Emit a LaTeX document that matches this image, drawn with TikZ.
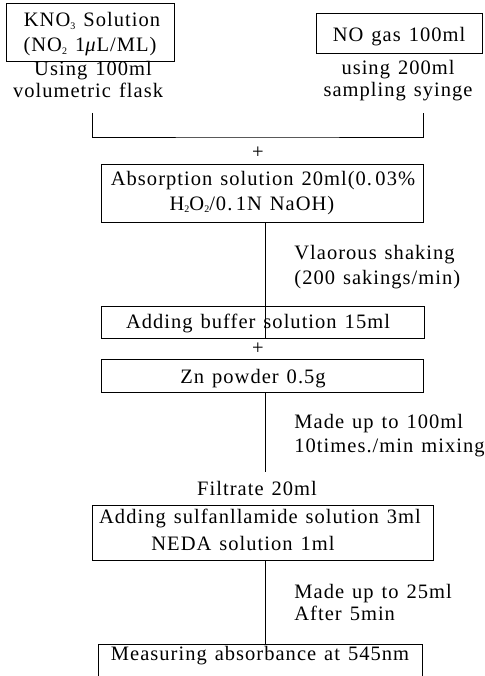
\documentclass[tikz,border=0pt]{standalone}
\usepackage{fontspec}
\setmainfont{Liberation Serif}[LetterSpace=5,WordSpace=1.3]
\newcommand{\lowsub}[1]{\raisebox{-2.5bp}{\fontsize{10bp}{10bp}\selectfont #1}}
\begin{document}
\begin{tikzpicture}[x=1bp,y=-1bp,
  font=\fontsize{20.5bp}{26bp}\selectfont,
  line width=0.8bp,
  box/.style={draw, line width=0.8bp, inner sep=0pt, rectangle},
  txt/.style={inner sep=0pt, anchor=base},
  side/.style={inner sep=0pt, anchor=base west}]
\clip (0,0) rectangle (485,676);
% boxes
\node[box, minimum width=168bp, minimum height=58bp] (kno) at (90,32) {};
\node[box, minimum width=166bp, minimum height=40bp] (nog) at (399,33) {};
\node[box, minimum width=322bp, minimum height=58bp] (abs) at (262,193) {};
\node[box, minimum width=323bp, minimum height=32bp] (buf) at (262.5,322) {};
\node[box, minimum width=322bp, minimum height=33bp] (zn) at (262,375.5) {};
\node[box, minimum width=341bp, minimum height=55bp] (sul) at (262.5,532.5) {};
\node[box, minimum width=324bp, minimum height=46bp] (meas) at (260,667) {};
% box texts
\node[txt] (kno1) at (92,27) {KNO\lowsub{3} Solution};
\node[txt] (kno2) at (90,52) {(NO\lowsub{2} 1\textit{μ}L/ML)};
\node[txt] (nog1) at (399,42) {NO gas 100ml};
\node[txt] (abs1) at (263,185) {Absorption solution 20ml(0.\,03\%};
\node[txt] (abs2) at (252,210) {H\lowsub{2}O\lowsub{2}/0.\,1N NaOH)};
\node[txt] (buf1) at (258,328) {Adding buffer solution 15ml};
\node[txt] (zn1) at (253,383) {Zn powder 0.5g};
\node[txt] (sul1) at (260,523) {Adding sulfanllamide solution 3ml};
\node[txt] (sul2) at (243,550) {NEDA solution 1ml};
\node[txt] (meas1) at (260,660) {Measuring absorbance at 545nm};
% free texts
\node[txt] (use1) at (93,76) {Using 100ml};
\node[txt] (use2) at (88,98) {volumetric flask};
\node[txt] (sam1) at (398,75) {using 200ml};
\node[txt] (sam2) at (398,97) {sampling syinge};
\node[inner sep=0pt] (plus1) at (258,153) {+};
\node[inner sep=0pt] (plus2) at (258,349) {+};
\node[side] (vig1) at (294,259) {Vlaorous shaking};
\node[side] (vig2) at (294,284) {(200 sakings/min)};
\node[side] (mu1) at (294,428) {Made up to 100ml};
\node[side] (mu2) at (294,452) {10times./min mixing};
\node[txt] (filt) at (257,495) {Filtrate 20ml};
\node[side] (mu3) at (294,598) {Made up to 25ml};
\node[side] (mu4) at (294,620) {After 5min};
% connectors
\coordinate (lt) at (92,113);
\coordinate (rt) at (423,113);
\coordinate (join) at (257,137);
\coordinate (spine) at (265,0);
\coordinate (zend) at (265,472);
\draw (lt) |- (join) -| (rt);
\draw (abs.south -| spine) -- (buf.south -| spine);
\draw (zn.south -| spine) -- (zend);
\draw (sul.south -| spine) -- (meas.north -| spine);
\end{tikzpicture}
\end{document}
